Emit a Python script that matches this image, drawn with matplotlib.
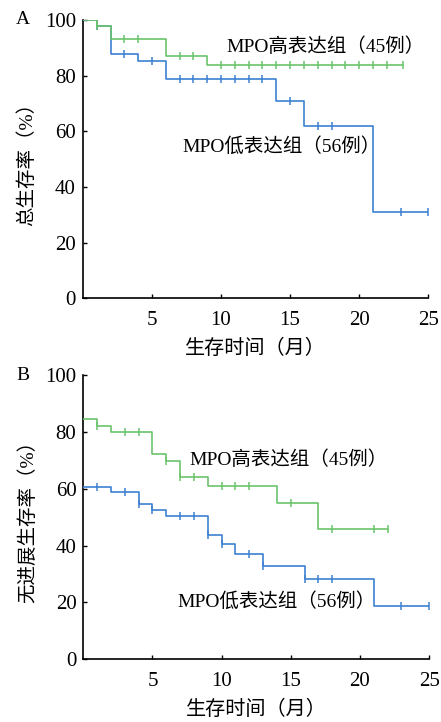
import matplotlib
matplotlib.use("Agg")
import matplotlib.pyplot as plt

plt.rcParams['font.family'] = ['Liberation Serif', 'Noto Sans CJK SC']

# Panel A: overall survival
a_high_t = [0, 1, 2, 6, 9, 23.2]
a_high_s = [100, 98, 93, 87, 83.7, 83.7]
a_high_cens = [1, 3, 4, 7, 8, 10, 11, 12, 13, 14, 15, 16, 17, 18, 19, 20, 21, 22, 23.2]

a_low_t = [0, 1, 2, 4, 6, 14, 16, 21, 25]
a_low_s = [100, 98, 87.8, 85.2, 78.8, 70.9, 61.9, 30.9, 30.9]
a_low_cens = [1, 3, 5, 7, 8, 9, 10, 11, 12, 13, 15, 17, 18, 23, 25]

# Panel B: progression-free survival
b_high_t = [0, 1, 2, 5, 6, 7, 9, 14, 17, 22]
b_high_s = [84.4, 82.2, 80, 72.1, 69.6, 64.2, 61, 54.9, 45.7, 45.7]
b_high_cens = [1, 3, 4, 6, 7, 8, 10, 11, 12, 15, 18, 21, 22]

b_low_t = [0, 2, 4, 5, 6, 9, 10, 11, 13, 16, 21, 25]
b_low_s = [60.7, 58.7, 54.6, 52.5, 50.5, 43.9, 40.6, 36.9, 32.8, 28.2, 18.6, 18.6]
b_low_cens = [1, 3, 4, 5, 7, 8, 9, 10, 12, 13, 16, 17, 18, 23, 25]

xticks = [5, 10, 15, 20, 25]
yticks = [0, 20, 40, 60, 80, 100]

GREEN = '#6cc46c'
BLUE = '#3d80d2'


def surv_at(ts, ss, x):
    v = ss[0]
    for t, s in zip(ts, ss):
        if x >= t:
            v = s
    return v


def draw(ax, t, s, cens, color):
    ax.step(t, s, where='post', color=color, lw=1.2, zorder=3)
    cy = [surv_at(t, s, c) for c in cens]
    ax.plot(cens, cy, ls='none', marker='|', ms=6, mew=1.1, color=color, zorder=3)


fig = plt.figure(figsize=(4.41, 7.22), dpi=100)
axA = fig.add_axes([0.188, 0.5868, 0.783, 0.3855])
axB = fig.add_axes([0.189, 0.0868, 0.784, 0.3938])

panels = [
    (axA, a_high_t, a_high_s, a_high_cens, a_low_t, a_low_s, a_low_cens,
     '总生存率（%）', (10.4, 90.3), (7.2, 54.7), 'A'),
    (axB, b_high_t, b_high_s, b_high_cens, b_low_t, b_low_s, b_low_cens,
     '无进展生存率（%）', (7.7, 70.1), (6.8, 20.5), 'B'),
]

for ax, ht, hs, hc, lt, ls_, lc, ylab, hpos, lpos, letter in panels:
    draw(ax, lt, ls_, lc, BLUE)
    draw(ax, ht, hs, hc, GREEN)
    ax.set_xlim(0, 25)
    ax.set_ylim(0, 100)
    ax.set_xticks(xticks)
    ax.set_yticks(yticks)
    for sp in ['top', 'right']:
        ax.spines[sp].set_visible(False)
    for sp in ['left', 'bottom']:
        ax.spines[sp].set_linewidth(1.2)
    ax.tick_params(direction='in', length=3, width=1.0, labelsize=15)
    ax.tick_params(axis='x', pad=9)
    ax.tick_params(axis='y', pad=5)
    ax.set_ylabel(ylab, fontsize=14, labelpad=6)
    ax.set_xlabel('生存时间（月）', fontsize=14.5, labelpad=7)
    ax.text(hpos[0], hpos[1], 'MPO高表达组（45例）', fontsize=14, va='center', ha='left')
    ax.text(lpos[0], lpos[1], 'MPO低表达组（56例）', fontsize=14, va='center', ha='left')
    ax.text(-0.195, 1.0, letter, transform=ax.transAxes, fontsize=14, va='center', ha='left')

fig.savefig('out.png', dpi=100)
